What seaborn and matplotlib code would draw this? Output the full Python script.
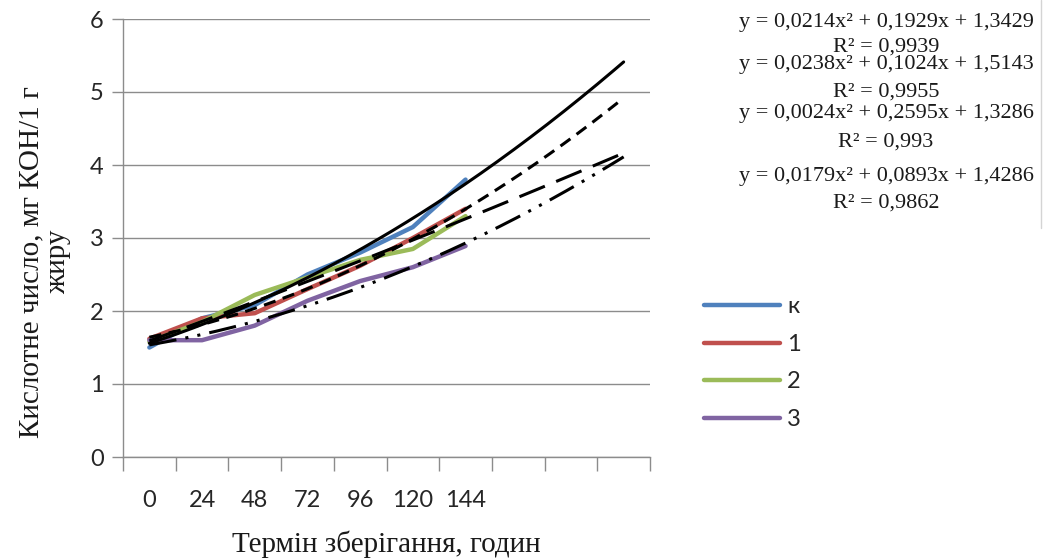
import numpy as np
import pandas as pd
import matplotlib
matplotlib.use("Agg")
import matplotlib.pyplot as plt
import seaborn as sns

# storage time, hours (7 measured points, 3 forecast slots on the axis)
hours = [0, 24, 48, 72, 96, 120, 144]
n_slots = 10

k_vals = [1.50, 1.90, 2.08, 2.50, 2.80, 3.15, 3.80]
s1_vals = [1.62, 1.90, 1.97, 2.30, 2.62, 3.00, 3.40]
s2_vals = [1.58, 1.85, 2.22, 2.46, 2.70, 2.85, 3.30]
s3_vals = [1.60, 1.60, 1.80, 2.14, 2.41, 2.60, 2.89]

series_names = ["к", "1", "2", "3"]
series_colors = ["#4F81BD", "#C0504D", "#9BBB59", "#8064A2"]

# trendline coefficients (a, b, c) and R^2 as printed on the chart
trend_coefs = [(0.0214, 0.1929, 1.3429), (0.0238, 0.1024, 1.5143),
               (0.0024, 0.2595, 1.3286), (0.0179, 0.0893, 1.4286)]
trend_r2 = ["0,9939", "0,9955", "0,993", "0,9862"]
trend_dashes = ["-", (0, (4, 2.5)), (0, (9, 4)), (0, (9, 3, 1, 3, 1, 3))]

pos = np.arange(1, len(hours) + 1)
df = pd.DataFrame({
    "pos": np.tile(pos, 4),
    "value": k_vals + s1_vals + s2_vals + s3_vals,
    "series": np.repeat(series_names, len(hours)),
})

sns.set_theme(style="white")
plt.rcParams["font.family"] = ["Lato", "DejaVu Sans"]

fig = plt.figure(figsize=(10.45, 5.6), dpi=100)
ax = fig.add_axes([123 / 1045, 1 - 457 / 560, (650 - 123) / 1045, (457 - 19) / 560])

sns.lineplot(data=df, x="pos", y="value", hue="series", palette=series_colors,
             hue_order=series_names, linewidth=3.2, ax=ax, legend=False)

xx = np.linspace(1, n_slots, 200)
for (a, b, c), ls in zip(trend_coefs, trend_dashes):
    sns.lineplot(x=xx, y=a * xx ** 2 + b * xx + c, color="black", linewidth=2.2,
                 linestyle=ls, ax=ax)

ax.set_xlim(0.5, n_slots + 0.5)
ax.set_ylim(0, 6)
ax.set_yticks(range(0, 7))
ax.yaxis.grid(True, color="#8c8c8c", linewidth=1)
ax.set_xticks(np.arange(0.5, n_slots + 1, 1))
ax.set_xticklabels([])
ax.set_xticks(pos, minor=True)
ax.set_xticklabels([str(h) for h in hours], minor=True)
ax.tick_params(axis="x", which="major", length=10, width=1, color="#8c8c8c", direction="out", bottom=True)
ax.tick_params(axis="x", which="minor", length=0, pad=24, labelsize=17, labelcolor="#262626")
ax.tick_params(axis="y", length=8, width=1, color="#8c8c8c", direction="out", left=True,
               labelsize=17, pad=6, labelcolor="#262626")
for side in ["top", "right"]:
    ax.spines[side].set_visible(False)
for side in ["left", "bottom"]:
    ax.spines[side].set_color("#8c8c8c")
    ax.spines[side].set_linewidth(1)

ax.set_xlabel("")
ax.set_ylabel("")
fig.text(386 / 1045, 1 - 544 / 560, "Термін зберігання, годин", ha="center", va="center",
         fontsize=21, family="Liberation Serif", color="#1a1a1a")
fig.text(45 / 1045, 1 - 262 / 560, "Кислотне число, мг КОН/1 г\nжиру", ha="center", va="center",
         rotation=90, fontsize=21, family="Liberation Serif", linespacing=1.05, color="#1a1a1a")

# trendline equations
eq_y = [22, 64, 114, 177]
r2_y = [47, 92, 142, 203]
for (a, b, c), r2, ye, yr in zip(trend_coefs, trend_r2, eq_y, r2_y):
    eq = "y = {}x² + {}x + {}".format(f"{a:.4f}".replace(".", ","), f"{b:.4f}".replace(".", ","),
                                       f"{c:.4f}".replace(".", ","))
    fig.text(886 / 1045, 1 - ye / 560, eq, ha="center", va="center", fontsize=16,
             family="Liberation Serif", color="#1a1a1a")
    fig.text(886 / 1045, 1 - yr / 560, f"R² = {r2}", ha="center", va="center", fontsize=16,
             family="Liberation Serif", color="#1a1a1a")

# thin border remnant at the right edge
fig.add_artist(plt.Line2D([1041 / 1045, 1041 / 1045], [1, 1 - 228 / 560], color="#d4d4d4",
                          linewidth=1, transform=fig.transFigure))

handles = [plt.Line2D([], [], color=c, linewidth=3.2) for c in series_colors]
fig.legend(handles, series_names, loc="upper left", bbox_to_anchor=(683 / 1045, 1 - 275 / 560),
           frameon=False, fontsize=17, handlelength=3.2, labelspacing=0.70, handletextpad=0.3,
           labelcolor="#262626")

fig.savefig("out.png", dpi=100)
